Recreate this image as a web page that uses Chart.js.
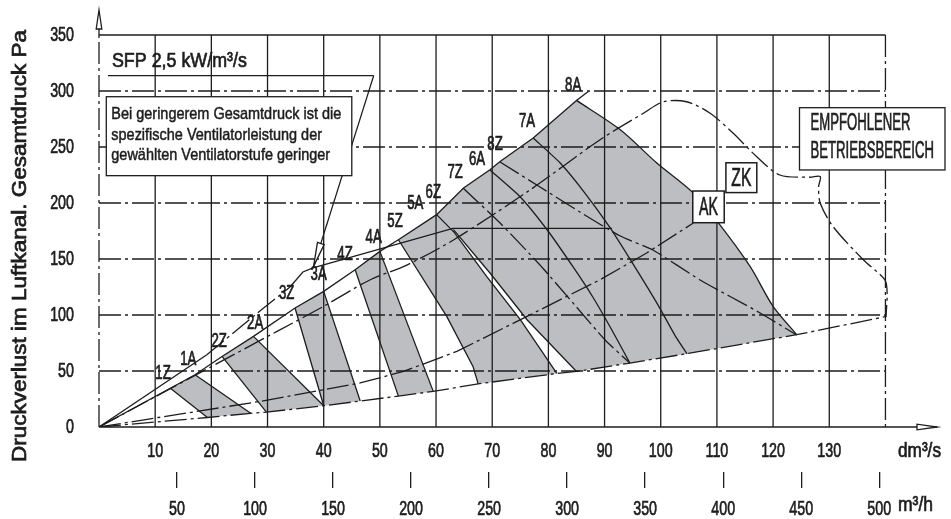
<!DOCTYPE html>
<html lang="de">
<head>
<meta charset="utf-8">
<title>Druckverlust im Luftkanal</title>
<script src="https://cdn.jsdelivr.net/npm/chart.js@4.4.1/dist/chart.umd.min.js"></script>
<style>
  html, body { margin: 0; padding: 0; background: #ffffff; }
  #chart { display: block; }
</style>
</head>
<body>
<canvas id="chart" width="951" height="519"></canvas>
<script>
// ---------- axis ticks ----------
const flowTicks = [10, 20, 30, 40, 50, 60, 70, 80, 90, 100, 110, 120, 130];      // dm³/s
const flowHourTicks = [50, 100, 150, 200, 250, 300, 350, 400, 450, 500];         // m³/h
const pressureTicks = [0, 50, 100, 150, 200, 250, 300, 350];                     // Pa

// ---------- fan step labels (flow dm³/s, pressure Pa) ----------
const stepLabels        = ['1Z', '1A', '2Z', '2A', '3Z', '3A', '4Z', '4A', '5Z', '5A', '6Z', '7Z', '6A', '8Z', '7A', '8A'];
const stepLabelFlow     = [11.4, 15.9, 21.4, 27.8, 33.4, 39.1, 43.8, 48.9, 52.7, 56.3, 59.5, 63.4, 67.3, 70.5, 76.2, 84.4];
const stepLabelPressure = [48.2, 60.1, 76.4, 92.8, 119.6, 136.0, 153.8, 169.6, 183.6, 200.0, 209.4, 226.8, 238.6, 252.0, 272.8, 304.7];

// ---------- limit lines ----------
const upperLimit = [[0, 0], [12.7, 34.6], [17.1, 46.7], [21.9, 63.0], [27.5, 80.9], [34.9, 106.3], [40.0, 121.1],
  [45.6, 140.4], [50.0, 156.8], [53.3, 167.2], [60.1, 189.6], [64.9, 213.4], [69.6, 229.7], [71.4, 237.1],
  [77.3, 258.0], [85.0, 291.6], [87.1, 299.6]];
const lowerLimit = [[0, 0], [19.3, 8.5], [27.0, 12.2], [29.8, 13.3], [40.0, 19.0], [46.5, 23.2], [53.3, 27.6],
  [59.5, 31.8], [67.5, 38.5], [81.5, 47.8], [85.0, 49.6], [94.5, 57.1], [104.6, 65.4], [124.2, 82.4], [140.2, 98.7]];
const recommendedLimit = [[0, 0], [31.7, 85.4], [40.0, 107.8], [48.3, 131.5], [54.8, 144.6], [63.1, 167.0],
  [76.8, 211.9], [89.2, 256.5], [96.9, 280.1], [100.5, 290.4], [104.6, 290.4], [108.8, 280.1], [112.9, 262.2],
  [117.1, 241.3], [121.2, 225.0], [126.5, 223.0], [128.4, 223.5], [128.1, 214.6], [128.4, 199.7], [130.7, 178.8],
  [136.1, 149.1], [139.9, 131.3], [140.3, 119.4], [140.1, 98.5]];
const systemCurveAK = [[0, 0], [28.7, 22.9], [46.5, 39.3], [54.2, 49.6], [63.7, 67.5], [76.2, 98.8],
  [89.2, 131.5], [97.5, 155.4], [105.8, 182.1]];
const sfpRayStart = [[0, 0], [19.2, 64.5]];
const sfpRayMid = [[19.2, 64.5], [29.3, 106.2], [34.0, 125.0]];
const sfpCurve = [[34.0, 125.0], [36.3, 138.4], [38.1, 142.0], [63.0, 177.4], [91.3, 177.4]];

// ---------- fan curves ----------
const curve1Z = [[12.7, 34.6], [19.3, 8.5]];
const curve1A = [[17.1, 46.7], [27.0, 12.2]];
const curve2Z = [[21.9, 63.0], [29.8, 13.3]];
const curve2A = [[27.5, 80.9], [40.0, 19.0]];
const curve3Z = [[34.9, 106.3], [40.0, 19.0]];
const curve3A = [[40.0, 121.1], [46.5, 23.2]];
const curve4Z = [[45.6, 140.4], [53.3, 27.6]];
const curve4A = [[50.0, 156.8], [59.5, 31.8]];
const curve5Z = [[53.3, 167.2], [61.9, 98.8], [66.6, 53.8], [67.5, 38.5]];
const curve6Z = [[60.1, 189.6], [63.1, 174.6], [69.0, 134.5], [75.0, 95.8], [81.5, 47.8]];
const curve5A = [[63.1, 176.2], [69.6, 137.5], [76.2, 95.8], [85.0, 49.6]];
const curve6A = [[69.6, 229.5], [75.0, 205.4], [79.8, 175.9], [84.4, 142.9], [87.9, 116.1], [91.3, 86.6], [94.5, 57.1]];
const curve7Z = [[64.8, 213.4], [71.4, 182.1], [78.5, 144.6], [84.7, 108.9], [90.1, 77.7], [94.5, 57.1]];
const curve7A = [[77.3, 258.0], [82.1, 235.7], [86.5, 208.9], [91.0, 177.7], [95.5, 142.0], [99.5, 109.0], [102.5, 82.1], [104.7, 65.2]];
const curve8Z = [[71.4, 236.6], [78.5, 214.3], [85.6, 192.0], [92.8, 170.5], [98.6, 158.0], [107.0, 131.3], [117.7, 101.8], [124.2, 82.1]];
const curve8A = [[85.0, 291.6], [92.8, 265.4], [99.3, 235.7], [105.8, 208.9], [110.3, 182.1], [115.9, 143.4], [120.0, 107.7], [124.2, 82.4]];

// ---------- shaded operating ranges ----------
const rangeStep1 = [[12.7, 34.6], [17.1, 46.7], [27.0, 12.2], [19.3, 8.5]];
const rangeStep2 = [[21.9, 63.0], [27.5, 80.9], [40.0, 19.0], [29.8, 13.3]];
const rangeStep3 = [[34.9, 106.3], [40.0, 121.1], [46.5, 23.2], [40.0, 19.0]];
const rangeStep4 = [[45.6, 140.4], [50.0, 156.8], [59.5, 31.8], [53.3, 27.6]];
const rangeStep5 = [[53.3, 167.2], [60.1, 189.6], [63.1, 174.6], [69.0, 134.5], [75.0, 95.8], [81.5, 47.8],
  [67.5, 38.5], [66.6, 53.8], [61.9, 98.8]];
const rangeStep6to8 = [[60.1, 189.6], [64.9, 213.4], [69.6, 229.7], [71.4, 237.1], [77.3, 258.0], [85.0, 291.6],
  [92.8, 265.4], [99.3, 235.7], [105.8, 208.9], [110.3, 182.1], [115.9, 143.4], [120.0, 107.7], [124.2, 82.4],
  [104.6, 65.4], [94.5, 57.1], [85.0, 49.6], [76.2, 95.8], [69.6, 137.5], [63.1, 176.2]];

// ---------- styling ----------
const INK = '#1d1d1d';
const SHADE = '#bdbec1';
const DASH_DOT = [22, 4, 3, 4];
const FONT = '"Liberation Sans", Arial, sans-serif';

const pts = arr => arr.map(([x, y]) => ({ x, y }));
const shaded = arr => ({
  data: pts(arr.concat([arr[0]])), isShade: true, fill: 'shape', backgroundColor: SHADE,
  borderColor: 'rgba(0,0,0,0)', borderWidth: 0, pointRadius: 0, order: 10, tension: 0
});
const line = (arr, dash, width, tension) => ({
  data: pts(arr), fill: false, borderColor: INK, borderWidth: width || 1.3, borderDash: dash || [],
  pointRadius: 0, order: 1, tension: tension || 0
});

const datasets = [
  shaded(rangeStep1), shaded(rangeStep2), shaded(rangeStep3), shaded(rangeStep4),
  shaded(rangeStep5), shaded(rangeStep6to8),
  line(upperLimit), line(lowerLimit, DASH_DOT), line(recommendedLimit, DASH_DOT, 1.3, 0.3),
  line(systemCurveAK, DASH_DOT), line(sfpRayStart), line(sfpRayMid, DASH_DOT), line(sfpCurve),
  line(curve1Z), line(curve1A), line(curve2Z), line(curve2A), line(curve3Z), line(curve3A),
  line(curve4Z), line(curve4A), line(curve5Z), line(curve6Z), line(curve5A),
  line(curve6A, [], 1.3, 0.2), line(curve7Z, DASH_DOT, 1.3, 0.2), line(curve7A, [], 1.3, 0.2),
  line(curve8Z, DASH_DOT, 1.3, 0.2), line(curve8A, [], 1.3, 0.3)
];

// ---------- drawing helpers ----------
function stroke(ctx, x1, y1, x2, y2, dash) {
  ctx.setLineDash(dash || []);
  ctx.beginPath(); ctx.moveTo(x1, y1); ctx.lineTo(x2, y2); ctx.stroke();
}
function openArrow(ctx, tipX, tipY, dirX, dirY, len, half) {
  const bx = tipX - dirX * len, by = tipY - dirY * len;
  ctx.setLineDash([]);
  ctx.beginPath();
  ctx.moveTo(tipX, tipY);
  ctx.lineTo(bx - dirY * half, by + dirX * half);
  ctx.lineTo(bx + dirY * half, by - dirX * half);
  ctx.closePath();
  ctx.fillStyle = '#ffffff'; ctx.fill(); ctx.stroke();
}
// condensed medium-weight lettering: horizontal squeeze (sx) or fit to a given width
function letter(ctx, text, x, y, size, opt) {
  ctx.save();
  ctx.font = `${size}px ${FONT}`;
  const w = ctx.measureText(text).width;
  const sx = opt.width ? opt.width / w : (opt.sx || 0.7);
  ctx.translate(x, y);
  if (opt.rotate) ctx.rotate(opt.rotate);
  ctx.scale(sx, 1);
  ctx.textAlign = opt.align || 'left';
  ctx.textBaseline = 'middle';
  ctx.fillStyle = INK; ctx.strokeStyle = INK;
  ctx.lineWidth = opt.stroke !== undefined ? opt.stroke : 0.7;
  ctx.setLineDash([]);
  ctx.fillText(text, 0, 0);
  if (ctx.lineWidth > 0) ctx.strokeText(text, 0, 0);
  ctx.restore();
  return sx;
}

function drawGrid(chart) {
  const { ctx } = chart, xs = chart.scales.x, ys = chart.scales.y;
  const L = xs.getPixelForValue(0), R = xs.getPixelForValue(140);
  const T = ys.getPixelForValue(350), B = ys.getPixelForValue(0);
  ctx.save();
  ctx.strokeStyle = INK; ctx.lineWidth = 1.3;
  flowTicks.forEach(v => { const p = xs.getPixelForValue(v); stroke(ctx, p, T, p, B); });
  stroke(ctx, R, T, R, B, DASH_DOT);
  pressureTicks.forEach(v => {
    if (v === 0) return;
    const p = ys.getPixelForValue(v);
    stroke(ctx, L, p, R, p, v === 350 ? [] : DASH_DOT);
  });
  // pressure axis with arrow
  stroke(ctx, L, B, L, T, DASH_DOT);
  stroke(ctx, L, T, L, T - 6);
  openArrow(ctx, L, T - 25, 0, -1, 19, 2.8);
  // flow axis with arrow
  const xEnd = chart.width - 14;
  stroke(ctx, L, B, xEnd, B);
  openArrow(ctx, xEnd, B, 1, 0, 20, 2.8);
  ctx.restore();
}

function drawTickLabels(chart) {
  const { ctx } = chart, xs = chart.scales.x, x2 = chart.scales.x2, ys = chart.scales.y;
  pressureTicks.forEach(v => letter(ctx, String(v), 74, ys.getPixelForValue(v), 21, { sx: 0.68, align: 'right' }));
  flowTicks.forEach(v => letter(ctx, String(v), xs.getPixelForValue(v), 451, 21, { sx: 0.68, align: 'center' }));
  flowHourTicks.forEach(v => letter(ctx, String(v), x2.getPixelForValue(v), 509, 21, { sx: 0.68, align: 'center' }));
  letter(ctx, 'dm³/s', 898, 451, 20, { width: 43 });
  letter(ctx, 'm³/h', 898, 505, 20, { width: 35 });
  letter(ctx, 'Druckverlust im Luftkanal. Gesamtdruck Pa', 20, 246, 20,
    { width: 432, align: 'center', rotate: -Math.PI / 2 });
}

function drawNotes(chart) {
  const { ctx } = chart, xs = chart.scales.x, ys = chart.scales.y;
  const X = v => xs.getPixelForValue(v), Y = v => ys.getPixelForValue(v);
  ctx.save();
  ctx.strokeStyle = INK; ctx.lineWidth = 1.3;

  // fan step labels
  stepLabels.forEach((t, i) => letter(ctx, t, X(stepLabelFlow[i]), Y(stepLabelPressure[i]), 20, { sx: 0.66, align: 'center' }));

  // SFP caption with leader line to the SFP curve
  letter(ctx, 'SFP 2,5 kW/m³/s', X(2.3), Y(326.6), 21, { width: 135 });
  ctx.lineWidth = 1.3;
  stroke(ctx, X(1.6), Y(313.7), X(48.9), Y(313.7));
  stroke(ctx, X(48.9), Y(313.7), X(38.2), Y(143.4));
  const ax = X(38.2), ay = Y(143.4), bx = X(48.9), by = Y(313.7);
  const d = Math.hypot(ax - bx, ay - by);
  openArrow(ctx, ax, ay, (ax - bx) / d, (ay - by) / d, 24, 3.5);

  // note box
  const bx0 = X(1.3), by0 = Y(294.9), bx1 = X(45.0), by1 = Y(224.4);
  ctx.setLineDash([]);
  ctx.fillStyle = '#ffffff'; ctx.fillRect(bx0, by0, bx1 - bx0, by1 - by0);
  ctx.strokeRect(bx0, by0, bx1 - bx0, by1 - by0);
  const noteSx = letter(ctx, 'Bei geringerem Gesamtdruck ist die', bx0 + 5, by0 + 18, 17, { width: 230, stroke: 0.5 });
  letter(ctx, 'spezifische Ventilatorleistung der', bx0 + 5, by0 + 38.5, 17, { sx: noteSx, stroke: 0.5 });
  letter(ctx, 'gewählten Ventilatorstufe geringer', bx0 + 5, by0 + 59, 17, { sx: noteSx, stroke: 0.5 });

  // recommended area box
  const ex0 = X(124.7), ey0 = Y(285.1), ex1 = X(150.6), ey1 = Y(229.5);
  ctx.fillStyle = '#ffffff'; ctx.fillRect(ex0, ey0, ex1 - ex0, ey1 - ey0);
  ctx.strokeRect(ex0, ey0, ex1 - ex0, ey1 - ey0);
  const boxSx = letter(ctx, 'EMPFOHLENER', ex0 + 11, ey0 + 16, 23, { width: 100 });
  letter(ctx, 'BETRIEBSBEREICH', ex0 + 11, ey0 + 44, 23, { sx: boxSx });

  // AK / ZK tags
  [['ZK', 111.6, 117.1, 235.9, 209.3, 20], ['AK', 105.7, 111.3, 210.7, 182.4, 19]].forEach(([t, x0, x1, y0, y1, tw]) => {
    const l = X(x0), r = X(x1), tp = Y(y0), bt = Y(y1);
    ctx.fillStyle = '#ffffff'; ctx.fillRect(l, tp, r - l, bt - tp);
    ctx.lineWidth = 1.5; ctx.strokeRect(l, tp, r - l, bt - tp);
    letter(ctx, t, (l + r) / 2, (tp + bt) / 2 + 1, 25, { width: tw, align: 'center' });
  });
  ctx.restore();

  drawTickLabels(chart);
}

const sheetPlugin = {
  id: 'sheet',
  beforeDatasetsDraw(chart) { chart.$gridDone = false; },
  beforeDatasetDraw(chart, args) {
    const ds = chart.data.datasets[args.index];
    if (!ds.isShade && !chart.$gridDone) { drawGrid(chart); chart.$gridDone = true; }
  },
  afterDatasetsDraw(chart) {
    if (!chart.$gridDone) { drawGrid(chart); chart.$gridDone = true; }
    drawNotes(chart);
  }
};

new Chart(document.getElementById('chart'), {
  type: 'line',
  data: { datasets },
  plugins: [sheetPlugin],
  options: {
    responsive: false, animation: false, devicePixelRatio: 1, events: [],
    layout: { padding: { top: 35, right: 15, left: 0, bottom: 0 } },
    plugins: { legend: { display: false }, tooltip: { enabled: false } },
    scales: {
      x: {
        type: 'linear', position: 'bottom', min: 0, max: 149, weight: 0,
        afterBuildTicks: s => { s.ticks = flowTicks.map(v => ({ value: v })); },
        afterFit: s => { s.height = 45; },
        grid: { display: false, drawTicks: false }, border: { display: false },
        ticks: { display: false }
      },
      x2: {
        type: 'linear', position: 'bottom', min: 0, max: 149 * 3.6, weight: 1,
        afterBuildTicks: s => { s.ticks = flowHourTicks.map(v => ({ value: v })); },
        afterFit: s => { s.height = 47; },
        grid: { display: true, drawOnChartArea: false, drawTicks: true, tickLength: 16, color: INK, lineWidth: 1.3 },
        border: { display: false },
        ticks: { display: false }
      },
      y: {
        type: 'linear', position: 'left', min: 0, max: 350,
        afterBuildTicks: s => { s.ticks = pressureTicks.map(v => ({ value: v })); },
        afterFit: s => { s.width = 99; },
        grid: { display: false, drawTicks: false }, border: { display: false },
        ticks: { display: false }
      }
    }
  }
});
</script>
</body>
</html>
